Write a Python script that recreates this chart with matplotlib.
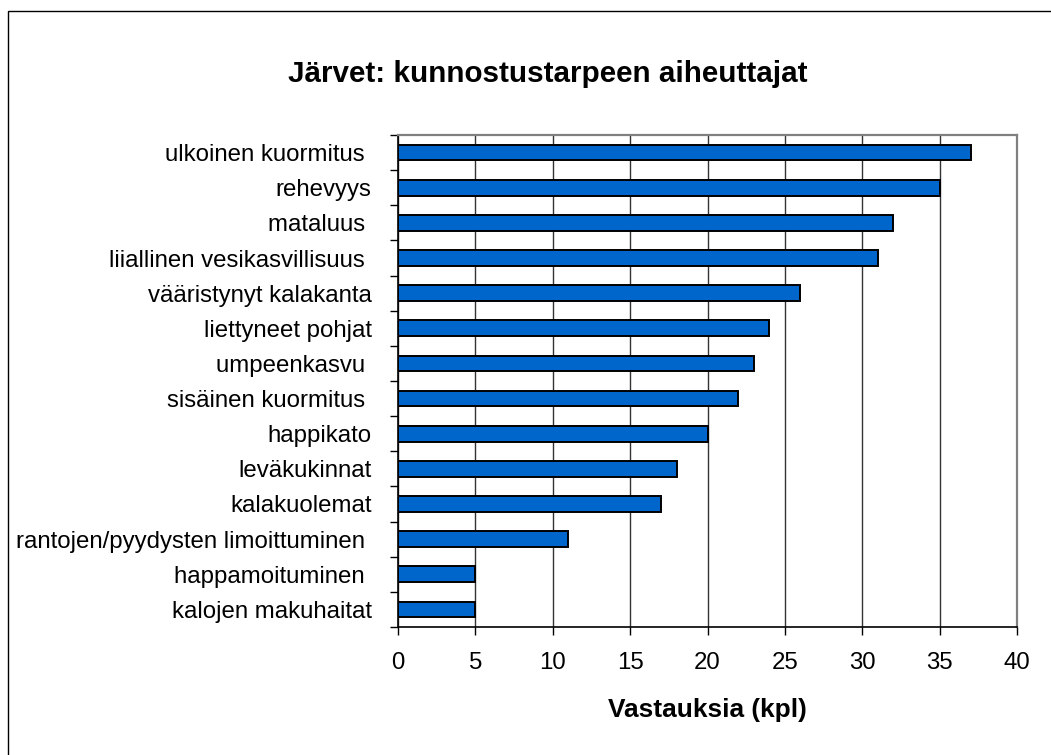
import matplotlib
matplotlib.use("Agg")
import matplotlib.pyplot as plt
from matplotlib.patches import Rectangle

categories = [
    "ulkoinen kuormitus ",
    "rehevyys",
    "mataluus ",
    "liiallinen vesikasvillisuus ",
    "vääristynyt kalakanta",
    "liettyneet pohjat",
    "umpeenkasvu ",
    "sisäinen kuormitus ",
    "happikato",
    "leväkukinnat",
    "kalakuolemat",
    "rantojen/pyydysten limoittuminen ",
    "happamoituminen ",
    "kalojen makuhaitat",
]
values = [37, 35, 32, 31, 26, 24, 23, 22, 20, 18, 17, 11, 5, 5]
xticks = [0, 5, 10, 15, 20, 25, 30, 35, 40]
title = "Järvet: kunnostustarpeen aiheuttajat"
xlabel = "Vastauksia (kpl)"

plt.rcParams['font.family'] = ['Liberation Sans', 'DejaVu Sans']

W, H = 1051, 755
fig = plt.figure(figsize=(W / 100, H / 100), dpi=100)
ax = fig.add_axes([398 / W, 1 - 627 / H, (1017 - 398) / W, (627 - 135) / H])

n = len(categories)
pos = list(range(n))
ax.barh(pos, values, height=0.45, color="#0066CC", edgecolor="black", linewidth=1.4, zorder=3)
ax.set_ylim(n - 0.5, -0.5)
ax.set_xlim(0, 40)
ax.set_xticks(xticks)
ax.set_xticklabels([str(t) for t in xticks])

# category labels centered, ticks at boundaries
ax.set_yticks(pos)
ax.set_yticklabels(categories)
ax.set_yticks([i - 0.5 for i in range(n + 1)], minor=True)
ax.tick_params(axis="y", which="major", length=0, pad=19, labelsize=17.3)
ax.tick_params(axis="y", which="minor", length=6, width=1, color="black", direction="out")
ax.tick_params(axis="x", which="major", length=6, width=1, color="black", direction="out", pad=12, labelsize=17.3)

ax.grid(axis="x", color="#333333", linewidth=1, zorder=0)
for side in ["top", "right"]:
    ax.spines[side].set_color("#808080")
    ax.spines[side].set_linewidth(1.6)
for side in ["left", "bottom"]:
    ax.spines[side].set_color("black")
    ax.spines[side].set_linewidth(1.2)

ax.set_xlabel(xlabel, fontsize=18.9, fontweight="bold", labelpad=17)
fig.text(547.5 / W, 1 - 82 / H, title, fontsize=21.3, fontweight="bold", ha="center", va="baseline")

fig.patches.append(Rectangle((8 / W, -0.1), 1.2, 1 - 11 / H + 0.1, transform=fig.transFigure,
                             fill=False, edgecolor="black", linewidth=1.0))

fig.savefig("out.png", dpi=100)
